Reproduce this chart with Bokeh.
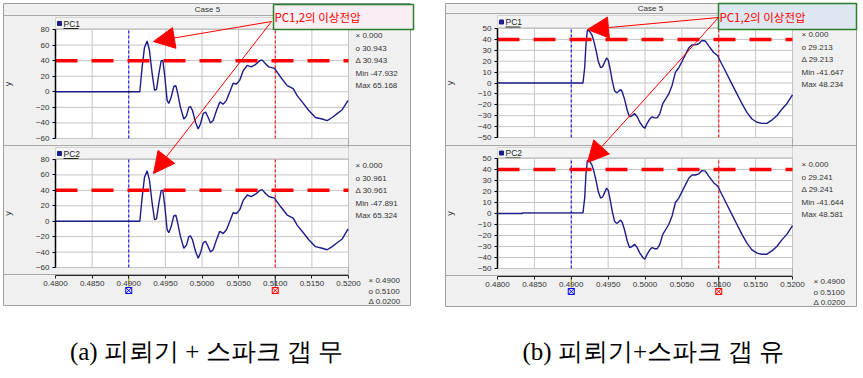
from bokeh.plotting import figure
from bokeh.models import Range1d, LinearAxis, FixedTicker, PrintfTickFormatter, Arrow, NormalHead
from bokeh.core.properties import value
from bokeh.embed import file_html
from bokeh.resources import INLINE

# ---------------- data ----------------
X_MIN, X_MAX = 0.48, 0.52
X_TICKS = [0.480, 0.485, 0.490, 0.495, 0.500, 0.505, 0.510, 0.515, 0.520]
Y_TICKS_A = [-60, -40, -20, 0, 20, 40, 60, 80]
Y_TICKS_B = [-50, -40, -30, -20, -10, 0, 10, 20, 30, 40, 50]
THRESHOLD = 40
CURSOR_X = [0.49, 0.51]
CURSOR_COLORS = ["#0000ff", "#ff0000"]

T_A = [0.48000, 0.49151, 0.49183, 0.49215, 0.49251, 0.49283, 0.49320, 0.49352, 0.49379,
       0.49411, 0.49443, 0.49465, 0.49493, 0.49524, 0.49547, 0.49579, 0.49615, 0.49643,
       0.49670, 0.49706, 0.49752, 0.49788, 0.49820, 0.49843, 0.49870, 0.49911, 0.49948,
       0.49980, 0.50016, 0.50048, 0.50080, 0.50116, 0.50152, 0.50198, 0.50243, 0.50289,
       0.50334, 0.50380, 0.50425, 0.50471, 0.50516, 0.50562, 0.50617, 0.50671, 0.50730,
       0.50790, 0.50821, 0.50867, 0.50912, 0.50990, 0.51072, 0.51163, 0.51245, 0.51299,
       0.51367, 0.51458, 0.51549, 0.51640, 0.51709, 0.51777, 0.51845, 0.51914, 0.51995]
PC1_A = [0, 0, 32, 57, 65.2, 53, 23, 2, 3,
         23, 40, 40, 19, -11, -15, -7, 7, 8,
         -3, -20, -35, -31, -20, -19, -24, -39, -47.9,
         -41, -28, -26, -32, -40, -37, -24, -13, -16,
         -11, 0, 11, 10, 15, 27, 34, 32, 35,
         40, 41, 36, 32, 30, 19, 8, 4, -5,
         -13, -24, -33, -35, -37, -33, -28, -23, -11]
PC2_A = [0, 0, 31, 57, 65.3, 53, 23, 2, 3,
         23, 40, 40, 19, -11, -15, -7, 7, 8,
         -3, -20, -35, -31, -20, -19, -24, -39, -47.9,
         -41, -28, -26, -32, -40, -37, -24, -13, -16,
         -11, 0, 11, 10, 15, 27, 34, 32, 35,
         40, 41, 36, 32, 30, 19, 8, 4, -5,
         -13, -24, -33, -35, -37, -33, -28, -23, -10]

T_B = [0.48000, 0.49159, 0.49182, 0.49200, 0.49218, 0.49236, 0.49254, 0.49281, 0.49308,
       0.49339, 0.49366, 0.49398, 0.49425, 0.49452, 0.49479, 0.49502, 0.49524, 0.49556,
       0.49587, 0.49614, 0.49637, 0.49669, 0.49691, 0.49723, 0.49759, 0.49790, 0.49826,
       0.49858, 0.49894, 0.49930, 0.49971, 0.49998, 0.50029, 0.50065, 0.50097, 0.50129,
       0.50165, 0.50201, 0.50241, 0.50277, 0.50322, 0.50368, 0.50413, 0.50458, 0.50503,
       0.50548, 0.50593, 0.50638, 0.50683, 0.50728, 0.50773, 0.50819, 0.50864, 0.50931,
       0.50985, 0.51044, 0.51112, 0.51179, 0.51247, 0.51315, 0.51382, 0.51450, 0.51518,
       0.51585, 0.51653, 0.51720, 0.51788, 0.51856, 0.51923, 0.52000]
PC1_B = [0, 0, 14, 36, 48, 48.2, 47, 44, 38,
         29, 20, 14, 15, 19, 23, 21, 14, 2,
         -7, -9, -8, -6, -8, -15, -25, -31, -30,
         -28, -31, -36, -40, -41.6, -37, -33, -31, -32,
         -32, -28, -19, -15, -10, -2, 10, 14, 20,
         26, 32, 35, 35, 36, 39, 38.5, 34, 28,
         25, 17, 8, -1, -10, -19, -27, -33, -36,
         -37, -37, -34, -30, -24, -19, -11]
T_B2 = [0.48000, 0.48338, 0.48340] + T_B[1:]
PC2_B = [0, 0, 0.6, 0.6, 14, 36, 48, 48.6, 47, 44, 38,
         29, 20, 14, 15, 19, 23, 21, 14, 2,
         -7, -9, -8, -6, -8, -15, -25, -31, -30,
         -28, -31, -36, -40, -41.6, -37, -33, -31, -32,
         -32, -28, -19, -15, -10, -2, 10, 14, 20,
         26, 32, 35, 35, 36, 39, 38.5, 34, 28,
         25, 17, 8, -1, -10, -19, -27, -33, -36,
         -37, -37, -34, -30, -24, -19, -11]

INFO_A = [["× 0.000", "o 30.943", "Δ 30.943", "Min -47.932", "Max 65.168"],
          ["× 0.000", "o 30.961", "Δ 30.961", "Min -47.891", "Max 65.324"]]
INFO_B = [["× 0.000", "o 29.213", "Δ 29.213", "Min -41.647", "Max 48.234"],
          ["× 0.000", "o 29.241", "Δ 29.241", "Min -41.644", "Max 48.581"]]
XINFO = ["× 0.4900", "o 0.5100", "Δ 0.0200"]
SERIES_NAMES = ["PC1", "PC2"]
CASE_TITLE = "Case 5"
CALLOUT = "PC1,2의 이상전압"
CAPTIONS = ["(a) 피뢰기 + 스파크 갭 무", "(b) 피뢰기+스파크 갭 유"]

# ---------------- layout (pixels) ----------------
W, H = 863, 378
LAYOUT = {
    "a": dict(bg=(3, 410, 3, 305), head=15, case_x=207, fl=55, fr=348,
              subs=[(29, 138), (159, 267)], xaxis_y=275, info_x=355, xinfo_x=368,
              sep=145, yticks=Y_TICKS_A, t=[T_A, T_A], v=[PC1_A, PC2_A], info=INFO_A,
              box=(273, 413, 4, 29), box_fill="#f8eef4", cap_x=206,
              arrow_start=(271, 21), tips=[(153, 41), (153, 173)]),
    "b": dict(bg=(445, 856, 3, 306), head=13, case_x=650, fl=497, fr=792,
              subs=[(28, 137), (158, 268)], xaxis_y=276, info_x=801, xinfo_x=813,
              sep=145, yticks=Y_TICKS_B, t=[T_B, T_B2], v=[PC1_B, PC2_B], info=INFO_B,
              box=(718, 856, 3, 29), box_fill="#dde7f2", cap_x=653,
              arrow_start=(718, 17), tips=[(587, 29), (587, 162)]),
}

FONT = "Liberation Sans"

p = figure(width=W, height=H, x_range=Range1d(0, W), y_range=Range1d(H, 0),
           x_axis_type=None, y_axis_type=None, toolbar_location=None,
           output_backend="svg", min_border=0, outline_line_color=None,
           background_fill_color="white", border_fill_color="white")


def make_xr(fl, fr):
    k = (X_MAX - X_MIN) / (fr - fl)
    return Range1d(start=X_MIN - fl * k, end=X_MIN + (W - fl) * k)


def make_yr(pt, pb, ymin, ymax):
    k = (ymax - ymin) / (pb - pt)
    return Range1d(start=ymax - (H - pt) * k, end=ymax + pt * k)


for key, L in LAYOUT.items():
    xn = "x" + key
    p.extra_x_ranges[xn] = make_xr(L["fl"], L["fr"])
    ymin, ymax = L["yticks"][0], L["yticks"][-1]
    bl, br, bt, bb = L["bg"]
    # panel background
    p.quad(left=[bl], right=[br], top=[bt], bottom=[bb], fill_color="#f0f0f0",
           line_color="#a0a0a0", line_width=1)
    # header / separators
    p.segment(x0=[bl, bl, bl, L["fr"]], y0=[L["head"], L["sep"], L["xaxis_y"] - 1, L["head"]],
              x1=[br, br, L["fr"], L["fr"]], y1=[L["head"], L["sep"], L["xaxis_y"] - 1, L["xaxis_y"] - 1],
              line_color="#a8a8a8", line_width=1)
    p.text(x=[L["case_x"]], y=[L["head"] / 2 + 1], text=[CASE_TITLE], text_align="center",
           text_baseline="middle", text_font=value(FONT), text_font_size="8px", text_color="#333333")

    for i, (pt, pb) in enumerate(L["subs"]):
        yn = "y" + key + str(i)
        p.extra_y_ranges[yn] = make_yr(pt, pb, ymin, ymax)
        tab_top = L["head"] + 2 if i == 0 else L["sep"] + 2
        # tab strip
        p.quad(left=[L["fl"]], right=[L["fr"]], top=[tab_top], bottom=[pt - 1],
               fill_color="#f3f3f3", line_color="#d4d4d4")
        p.scatter(x=[L["fl"] + 4], y=[(tab_top + pt) / 2], marker="square", size=4,
                  fill_color="#1c1c8a", line_color="#1c1c8a")
        p.text(x=[L["fl"] + 8], y=[(tab_top + pt) / 2], text=[SERIES_NAMES[i]],
               text_baseline="middle", text_font=value(FONT), text_font_size="8.5px",
               text_color="#222222")
        p.segment(x0=[L["fl"] + 8], y0=[(tab_top + pt) / 2 + 5], x1=[L["fl"] + 23],
                  y1=[(tab_top + pt) / 2 + 5], line_color="#222222", line_width=1)
        # plot area
        p.quad(left=[X_MIN], right=[X_MAX], top=[ymax], bottom=[ymin], fill_color="white",
               line_color="#a0a0a0", x_range_name=xn, y_range_name=yn)
        # grid
        p.segment(x0=X_TICKS, x1=X_TICKS, y0=[ymin] * len(X_TICKS), y1=[ymax] * len(X_TICKS),
                  line_color="#c4c4c4", line_width=1, x_range_name=xn, y_range_name=yn)
        yt = L["yticks"]
        p.segment(x0=[X_MIN] * len(yt), x1=[X_MAX] * len(yt), y0=yt, y1=yt,
                  line_color="#c4c4c4", line_width=1, x_range_name=xn, y_range_name=yn)
        # cursors
        for cx, cc in zip(CURSOR_X, CURSOR_COLORS):
            p.segment(x0=[cx], x1=[cx], y0=[ymin], y1=[ymax], line_color=cc, line_width=1,
                      line_dash="3 2", x_range_name=xn, y_range_name=yn)
        # curve
        p.line(x=L["t"][i], y=L["v"][i], line_color="#1c1c8a", line_width=1.4,
               x_range_name=xn, y_range_name=yn)
        # threshold
        p.segment(x0=[X_MIN], x1=[X_MAX], y0=[THRESHOLD], y1=[THRESHOLD], line_color="#ff0000",
                  line_width=3.5, line_dash="22 14", x_range_name=xn, y_range_name=yn)
        # info
        info = L["info"][i]
        p.text(x=[L["info_x"]] * len(info), y=[pt + 6 + 12.5 * j for j in range(len(info))],
               text=info, text_baseline="middle", text_font=value(FONT), text_font_size="8px",
               text_color="#333333")
        # y axis
        yax = LinearAxis(y_range_name=yn, fixed_location=L["fl"], bounds=(ymin, ymax),
                         ticker=FixedTicker(ticks=yt, minor_ticks=[]), axis_label="y",
                         axis_label_text_font=FONT, axis_label_text_font_size="9px",
                         axis_label_text_font_style="normal", axis_label_standoff=20,
                         axis_label_text_color="#333333",
                         major_label_text_font=FONT, major_label_text_font_size="8px",
                         major_label_text_color="#333333", major_label_standoff=3,
                         major_tick_out=3, major_tick_in=0, minor_tick_line_color=None,
                         axis_line_color="black", axis_line_width=1.5,
                         major_tick_line_color="black")
        p.add_layout(yax, "left")

    # x axis
    xax = LinearAxis(x_range_name=xn, fixed_location=L["xaxis_y"], bounds=(X_MIN, X_MAX),
                     ticker=FixedTicker(ticks=X_TICKS, minor_ticks=[]),
                     formatter=PrintfTickFormatter(format="%.4f"),
                     major_label_text_font=FONT, major_label_text_font_size="8px",
                     major_label_text_color="#333333", major_label_standoff=2,
                     major_tick_out=3, major_tick_in=0, minor_tick_line_color=None,
                     axis_line_color="#222222", axis_line_width=1.2,
                     major_tick_line_color="#222222")
    p.add_layout(xax, "below")
    # cursor markers under x axis
    ay = L["xaxis_y"]
    p.segment(x0=CURSOR_X, x1=CURSOR_X, y0=[ay, ay], y1=[ay + 11, ay + 11],
              line_color=["#a8a020", "#444444"], line_width=1.2, x_range_name=xn)
    p.scatter(x=CURSOR_X, y=[ay + 15, ay + 15], marker="square_x", size=6,
              line_color=CURSOR_COLORS, fill_color=None, x_range_name=xn)
    p.text(x=[L["xinfo_x"]] * 3, y=[ay + 5 + 10.5 * j for j in range(3)], text=XINFO,
           text_baseline="middle", text_font=value(FONT), text_font_size="8px",
           text_color="#333333")

    # callout box
    x0b, x1b, t0b, t1b = L["box"]
    p.quad(left=[x0b], right=[x1b], top=[t0b], bottom=[t1b], fill_color=L["box_fill"],
           line_color="#2a7d2a", line_width=1.5)
    p.text(x=[x0b + 1], y=[(t0b + t1b) / 2], text=[CALLOUT], text_baseline="middle",
           text_font=value("Noto Sans CJK KR"), text_font_size="11.5px", text_color="#ff0000")
    for tx, ty in L["tips"]:
        sx, sy = L["arrow_start"]
        p.add_layout(Arrow(end=NormalHead(size=21, fill_color="#ff0000", line_color="#ff0000"),
                           x_start=sx, y_start=sy, x_end=tx, y_end=ty,
                           line_color="#ff0000", line_width=1))
    # caption
    p.text(x=[L["cap_x"]], y=[351], text=[CAPTIONS[0 if key == "a" else 1]],
           text_align="center", text_baseline="middle", text_font=value("Liberation Serif"),
           text_font_size="25px", text_color="#000000")

open("out.html", "w").write(file_html(p, INLINE))
